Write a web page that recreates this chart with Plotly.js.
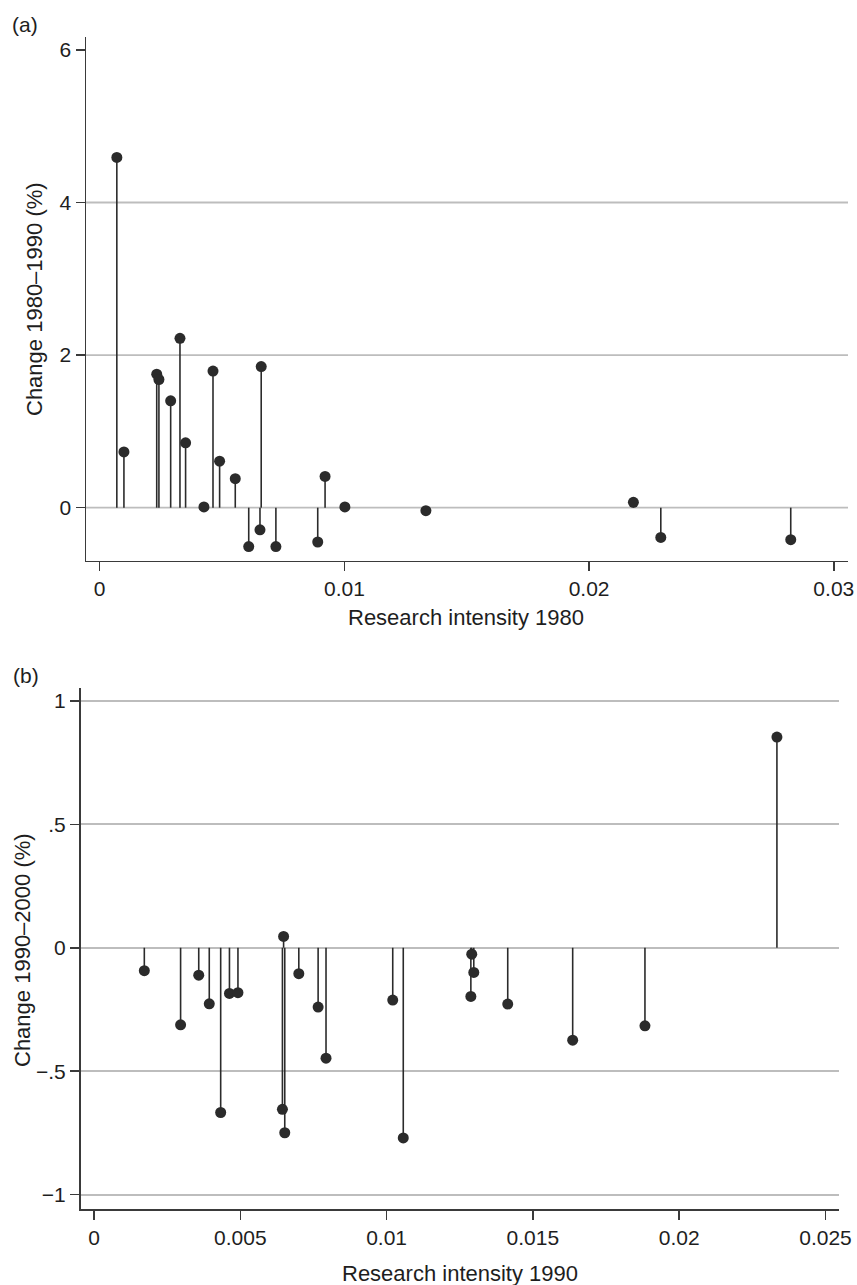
<!DOCTYPE html>
<html>
<head>
<meta charset="utf-8">
<script src="https://cdn.plot.ly/plotly-3.0.1.min.js"></script>
<style>html,body{margin:0;padding:0;background:#fff;}#chart{width:857px;height:1285px;}</style>
</head>
<body>
<div id="chart"></div>
<script>
// Panel (a): research intensity 1980 vs change 1980–1990 (%)
const intensity1980 = [0.00070, 0.00099, 0.00233, 0.00242, 0.00290, 0.00328, 0.00351, 0.00426, 0.00463, 0.00490, 0.00554, 0.00609, 0.00655, 0.00660, 0.00720, 0.00891, 0.00921, 0.01002, 0.01333, 0.02181, 0.02293, 0.02824];
const change8090 = [4.59, 0.73, 1.75, 1.68, 1.40, 2.22, 0.85, 0.01, 1.79, 0.61, 0.38, -0.51, -0.29, 1.85, -0.51, -0.45, 0.41, 0.01, -0.04, 0.07, -0.39, -0.42];

// Panel (b): research intensity 1990 vs change 1990–2000 (%)
const intensity1990 = [0.00172, 0.00296, 0.00358, 0.00394, 0.00433, 0.00463, 0.00492, 0.00648, 0.00644, 0.00652, 0.00700, 0.00766, 0.00793, 0.01021, 0.01057, 0.01291, 0.01298, 0.01288, 0.01414, 0.01636, 0.01883, 0.02334];
const change9000 = [-0.093, -0.312, -0.111, -0.227, -0.667, -0.185, -0.182, 0.046, -0.654, -0.749, -0.105, -0.240, -0.447, -0.212, -0.770, -0.026, -0.100, -0.197, -0.228, -0.374, -0.316, 0.853];

// Tick labels and grid positions
const xTicksA = [0, 0.01, 0.02, 0.03];
const xTickTextA = ["0", "0.01", "0.02", "0.03"];
const yTicksA = [0, 2, 4, 6];
const yTickTextA = ["0", "2", "4", "6"];
const yGridA = [0, 2, 4];
const xTicksB = [0, 0.005, 0.01, 0.015, 0.02, 0.025];
const xTickTextB = ["0", "0.005", "0.01", "0.015", "0.02", "0.025"];
const yTicksB = [-1, -0.5, 0, 0.5, 1];
const yTickTextB = ["\u22121", "\u2212.5", "0", ".5", "1"];

const W = 857, H = 1285;
const FONT = "Liberation Sans, Arial, Helvetica, sans-serif";
const INK = "#2b2b2b";
const TXT = "#1e1e1e";
const GRID = "#bdbdbd";

function stems(xs, ys) {
  const sx = [], sy = [];
  xs.forEach((x, i) => { sx.push(x, x, null); sy.push(0, ys[i], null); });
  return {sx, sy};
}

const sa = stems(intensity1980, change8090);
const sb = stems(intensity1990, change9000);

const traces = [
  {x: sa.sx, y: sa.sy, mode: "lines", line: {color: INK, width: 1.6}, xaxis: "x", yaxis: "y", hoverinfo: "skip", showlegend: false},
  {x: intensity1980, y: change8090, mode: "markers", marker: {color: INK, size: 11}, xaxis: "x", yaxis: "y", showlegend: false},
  {x: sb.sx, y: sb.sy, mode: "lines", line: {color: INK, width: 1.6}, xaxis: "x2", yaxis: "y2", hoverinfo: "skip", showlegend: false},
  {x: intensity1990, y: change9000, mode: "markers", marker: {color: INK, size: 11}, xaxis: "x2", yaxis: "y2", showlegend: false}
];

const px = v => v / W;
const py = v => 1 - v / H;

const axBase = {
  showline: true, linecolor: "#3a3a3a", linewidth: 1.5,
  ticks: "outside", ticklen: 9, tickwidth: 1.5, tickcolor: "#3a3a3a",
  tickfont: {family: FONT, size: 21, color: TXT},
  zeroline: false, mirror: false, fixedrange: true, layer: "above traces"
};

// grid lines of panel (a) at 0, 2, 4 only (no line at 6)
const gridShapesA = yGridA.map(v => ({
  type: "line", xref: "x domain", yref: "y", x0: 0, x1: 1, y0: v, y1: v,
  line: {color: GRID, width: 1.8}, layer: "below"
}));

const layout = {
  width: W, height: H,
  margin: {l: 0, r: 0, t: 0, b: 0},
  paper_bgcolor: "#ffffff", plot_bgcolor: "#ffffff",
  font: {family: FONT, size: 21, color: TXT},
  showlegend: false,
  xaxis: Object.assign({}, axBase, {
    domain: [px(86), px(848)], anchor: "y",
    range: [-0.00056, 0.03058], tickvals: xTicksA, ticktext: xTickTextA, showgrid: false
  }),
  yaxis: Object.assign({}, axBase, {
    domain: [py(560.7), py(37.3)], anchor: "x",
    range: [-0.695, 6.165], tickvals: yTicksA, ticktext: yTickTextA, showgrid: false
  }),
  xaxis2: Object.assign({}, axBase, {
    domain: [px(80.5), px(839.3)], anchor: "y2",
    range: [-0.000461, 0.025472], tickvals: xTicksB, ticktext: xTickTextB, showgrid: false
  }),
  yaxis2: Object.assign({}, axBase, {
    domain: [py(1209.3), py(687.7)], anchor: "x2",
    range: [-1.059, 1.053], tickvals: yTicksB, ticktext: yTickTextB,
    showgrid: true, gridcolor: GRID, gridwidth: 1.8
  }),
  shapes: gridShapesA,
  annotations: [
    {text: "(a)", xref: "paper", yref: "paper", x: px(10), y: py(24), xanchor: "left", yanchor: "middle", showarrow: false, font: {family: FONT, size: 21, color: TXT}},
    {text: "(b)", xref: "paper", yref: "paper", x: px(11), y: py(675), xanchor: "left", yanchor: "middle", showarrow: false, font: {family: FONT, size: 21, color: TXT}},
    {text: "Change 1980\u20131990 (%)", xref: "paper", yref: "paper", x: px(34), y: py(299), xanchor: "center", yanchor: "middle", textangle: -90, showarrow: false, font: {family: FONT, size: 22, color: TXT}},
    {text: "Change 1990\u20132000 (%)", xref: "paper", yref: "paper", x: px(22), y: py(950), xanchor: "center", yanchor: "middle", textangle: -90, showarrow: false, font: {family: FONT, size: 22, color: TXT}},
    {text: "Research intensity 1980", xref: "paper", yref: "paper", x: px(466), y: py(617), xanchor: "center", yanchor: "middle", showarrow: false, font: {family: FONT, size: 22, color: TXT}},
    {text: "Research intensity 1990", xref: "paper", yref: "paper", x: px(460), y: py(1273), xanchor: "center", yanchor: "middle", showarrow: false, font: {family: FONT, size: 22, color: TXT}}
  ]
};

Plotly.newPlot("chart", traces, layout, {displayModeBar: false, staticPlot: true});
</script>
</body>
</html>
